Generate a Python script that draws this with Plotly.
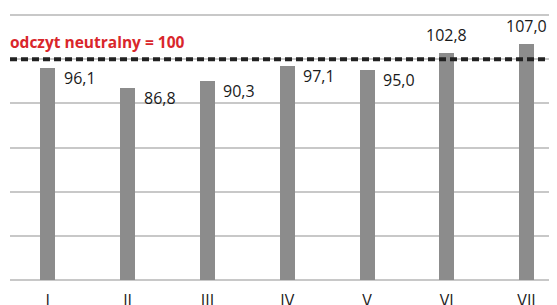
import plotly.graph_objects as go

categories = ["I", "II", "III", "IV", "V", "VI", "VII"]
values = [96.1, 86.8, 90.3, 97.1, 95.0, 102.8, 107.0]
neutral_value = 100
neutral_label = "odczyt neutralny = 100"
y_ticks = [0, 20, 40, 60, 80, 100, 120]

FONT = "Open Sans"
x_pos = list(range(len(categories)))

fig = go.Figure()
fig.add_trace(go.Bar(
    x=x_pos, y=values, width=0.188,
    marker=dict(color="#8c8c8c", line=dict(width=0)),
    hoverinfo="skip",
))

def fmt(v):
    return f"{v:.1f}".replace(".", ",")

annotations = []
for xi, v in zip(x_pos, values):
    if v > neutral_value:
        annotations.append(dict(
            x=xi, y=v, xref="x", yref="y", text=fmt(v), showarrow=False,
            xanchor="center", yanchor="bottom", yshift=5,
            font=dict(family=FONT, size=16, color="#1a1a1a"),
        ))
    else:
        annotations.append(dict(
            x=xi, y=v, xref="x", yref="y", text=fmt(v), showarrow=False,
            xanchor="left", yanchor="middle", xshift=14, yshift=-10,
            font=dict(family=FONT, size=16, color="#1a1a1a"),
        ))

annotations.append(dict(
    x=0, xref="paper", y=neutral_value, yref="y", text="<b>" + neutral_label + "</b>",
    showarrow=False, xanchor="left", yanchor="middle", yshift=17, xshift=-2,
    font=dict(family=FONT, size=15.5, color="#d9262b"),
))

fig.update_layout(
    width=557, height=305,
    margin=dict(l=2, r=8, t=5, b=28),
    paper_bgcolor="white", plot_bgcolor="white",
    showlegend=False,
    bargap=0,
    annotations=annotations,
    shapes=[dict(
        type="line", xref="paper", x0=0, x1=1, yref="y", y0=neutral_value, y1=neutral_value,
        line=dict(color="#222222", width=4, dash="7px,4px"), layer="above",
    )],
    xaxis=dict(
        range=[-0.474, 6.381], tickvals=x_pos, ticktext=categories,
        showgrid=False, zeroline=False, showline=False, ticks="",
        tickfont=dict(family=FONT, size=16, color="#1a1a1a"),
        ticklabelstandoff=7,
        fixedrange=True,
    ),
    yaxis=dict(
        range=[-1, 121], tickvals=y_ticks, showticklabels=False,
        showgrid=True, gridcolor="#c8c8c8", gridwidth=1.5,
        zeroline=False, showline=False, ticks="",
        fixedrange=True,
    ),
)

fig.write_html("out.html", config={"displayModeBar": False})
